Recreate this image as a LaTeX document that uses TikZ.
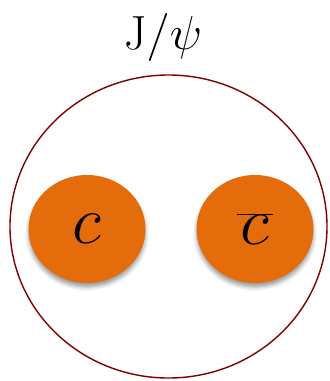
\documentclass[tikz,border=0pt]{standalone}
\usepackage{fix-cm}
\usetikzlibrary{shapes.geometric,shadows.blur}
\definecolor{quarkorange}{RGB}{228,108,10}
\definecolor{mesonred}{RGB}{128,0,0}
\begin{document}
\begin{tikzpicture}[x=1pt, y=-1pt,
    meson/.style={ellipse, draw=mesonred, line width=1.4pt, minimum width=317pt, minimum height=303pt, inner sep=0pt},
    quark/.style={ellipse, fill=quarkorange, minimum width=117pt, minimum height=108pt, inner sep=0pt, font=\fontsize{68}{68}\selectfont, blur shadow={shadow xshift=0pt, shadow yshift=-4pt, shadow blur radius=4pt, shadow opacity=40}},
    title/.style={anchor=base, font=\fontsize{48}{48}\selectfont}
]
    \useasboundingbox (0,0) rectangle (330,381);
    \node[meson] (jpsi) at (168.5,226.5) {};
    \node[title] (name) at (163,49) {$\mathrm{J}/\psi$};
    \node[quark] (c)    at (87,229) {$c$};
    \node[quark] (cbar) at (255,229)  {$\overline{\mkern1mu c\mkern1mu}$};
\end{tikzpicture}
\end{document}
